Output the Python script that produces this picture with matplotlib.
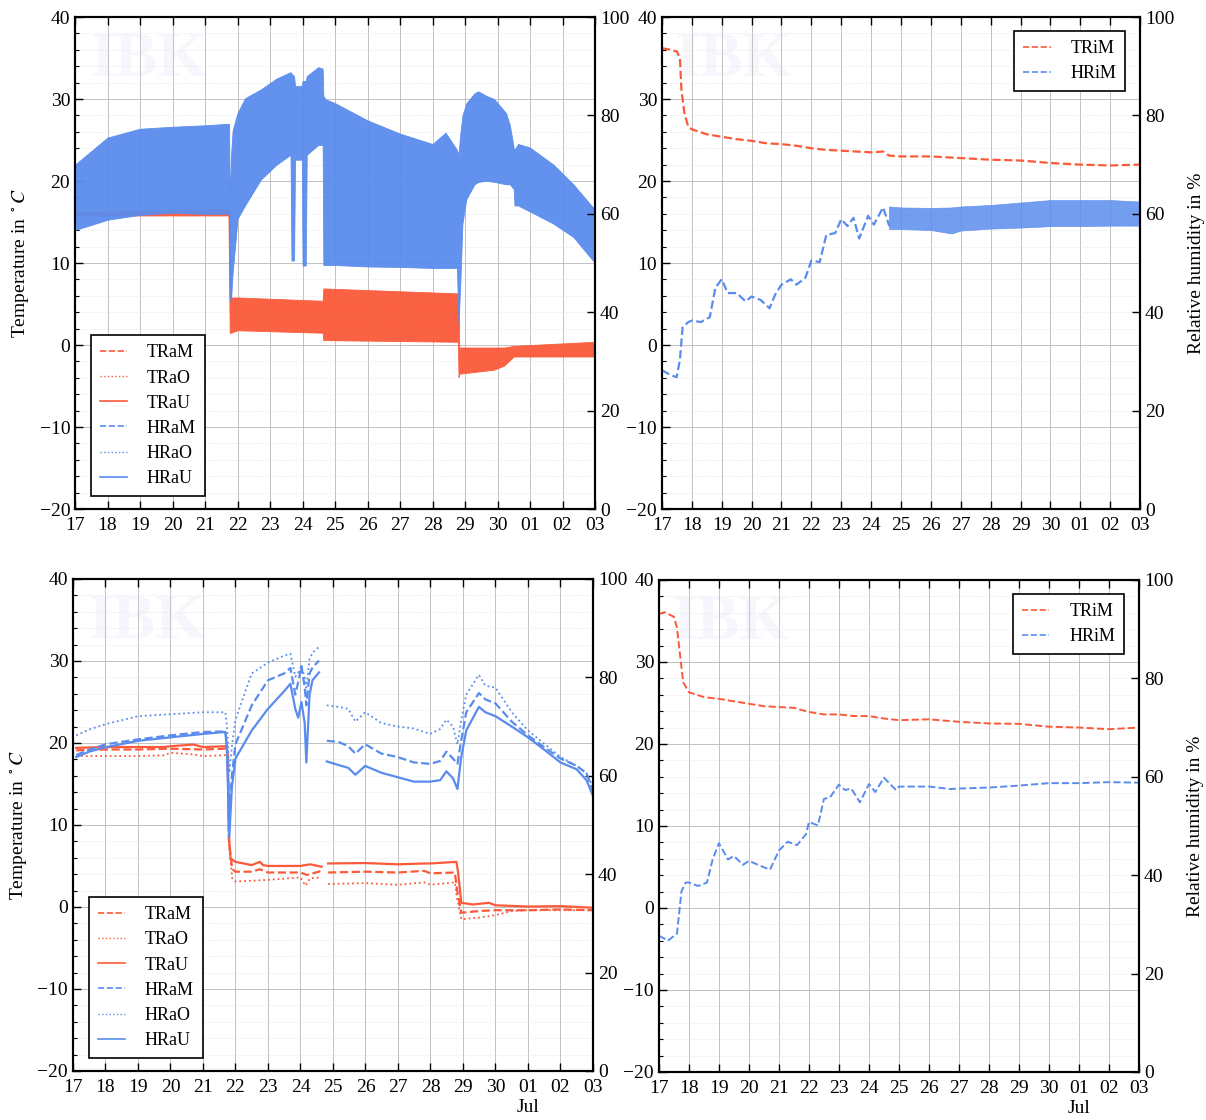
import numpy as np
import matplotlib
matplotlib.use("Agg")
import matplotlib.pyplot as plt
import matplotlib.dates as mdates
from matplotlib.lines import Line2D
from matplotlib.ticker import MultipleLocator, FuncFormatter
from datetime import datetime

plt.rcParams['font.family'] = ['Liberation Serif', 'DejaVu Serif']
plt.rcParams['mathtext.fontset'] = 'stix'
plt.rcParams['xtick.direction'] = 'in'
plt.rcParams['ytick.direction'] = 'in'

RED = '#fb5a3a'
BLUE = '#5a8ced'

# time axis: days since 17 June 00:00
t0 = mdates.date2num(datetime(2019, 6, 17))

# ---- top left: raw outdoor sensors (dense oscillation, drawn as min/max envelope)
tl_hr_t = [0.0, 1.0, 2.0, 3.0, 4.0, 4.7, 4.74, 4.76, 4.8, 4.85, 5.0, 5.23, 5.72, 6.2, 6.63,
           6.66, 6.74, 6.77, 6.98, 7.0, 7.1, 7.13, 7.48, 7.62, 7.64, 7.7, 8.0, 9.0, 10.0,
           11.0, 11.4, 11.75, 11.8, 11.85, 11.92, 12.04, 12.29, 12.41, 12.65, 12.9, 13.26,
           13.38, 13.5, 13.52, 13.63, 13.99, 14.72, 15.33, 16.0]
tl_hr_hi = [70.0, 75.5, 77.3, 77.7, 78.0, 78.3, 78.3, 62.0, 72.0, 77.0, 80.5, 83.5, 85.3, 87.5, 88.8,
            88.5, 88.0, 86.0, 86.0, 87.0, 87.0, 88.0, 89.8, 89.5, 84.0, 83.3, 82.5, 79.0, 76.3,
            74.2, 76.5, 73.0, 72.0, 76.0, 80.0, 82.5, 84.5, 84.9, 84.0, 83.3, 80.5,
            78.0, 73.3, 73.0, 74.2, 73.5, 70.0, 66.0, 60.8]
tl_hr_lo = [56.7, 58.8, 59.8, 60.2, 60.0, 60.0, 60.0, 42.5, 42.7, 48.0, 59.0, 61.7, 67.0, 70.0, 72.0,
            50.5, 50.5, 71.0, 71.0, 49.5, 49.5, 72.0, 74.0, 74.0, 49.6, 49.6, 49.6, 49.3, 49.2,
            49.0, 49.0, 49.0, 37.8, 45.0, 58.0, 63.0, 66.0, 66.5, 66.7, 66.5, 66.0,
            66.0, 65.0, 61.7, 61.7, 60.5, 58.0, 55.3, 50.0]

tl_tr_t = [0.0, 4.72, 4.76, 4.8, 5.0, 7.62, 7.64, 11.78, 11.8, 11.82, 12.9, 13.2, 13.5, 16.0]
tl_tr_hi = [16.2, 16.6, 16.0, 5.8, 5.8, 5.4, 6.9, 6.3, 6.3, -0.3, -0.3, -0.3, -0.1, 0.4]
tl_tr_lo = [15.8, 15.8, 1.5, 1.5, 1.8, 1.5, 0.6, 0.4, -3.9, -3.5, -3.0, -2.5, -1.4, -1.4]

# ---- top right: indoor sensor
tr_trim_t = [0, 0.3, 0.5, 0.6, 0.65, 0.75, 0.88, 1.0, 1.5, 2.0, 2.5, 3.0, 3.5, 4.0, 4.5, 5.0,
             5.5, 6.0, 6.5, 7.0, 7.4, 7.6, 8.0, 9, 10, 11, 12, 13, 14, 15, 16]
tr_trim = [36.2, 36.0, 35.8, 35.0, 31.2, 28.3, 26.6, 26.3, 25.7, 25.4, 25.1, 24.9, 24.6, 24.5,
           24.3, 24.0, 23.8, 23.7, 23.6, 23.5, 23.6, 23.1, 23.0, 23.0, 22.8, 22.6, 22.5, 22.2,
           22.0, 21.9, 22.0]
tr_hrim_t = [0, 0.3, 0.49, 0.6, 0.69, 0.88, 1.0, 1.3, 1.6, 1.79, 2.0, 2.2, 2.5, 2.8, 3.0, 3.3,
             3.6, 3.79, 4.0, 4.31, 4.5, 4.8, 5.0, 5.28, 5.5, 5.8, 6.0, 6.21, 6.41, 6.6, 6.9,
             7.09, 7.4, 7.61]
tr_hrim = [28.2, 27.2, 26.8, 30.3, 36.9, 38.0, 38.3, 38.0, 39.0, 45.0, 46.7, 43.9, 43.9, 42.2,
           43.2, 42.5, 40.8, 43.6, 45.6, 46.7, 45.6, 47.0, 50.5, 50.2, 55.7, 56.1, 58.9, 57.5,
           59.2, 55.0, 59.6, 57.8, 61.3, 57.5]
tr_band_t = [7.6, 8, 9, 9.7, 10, 11, 12, 13, 14, 15, 16]
tr_band_hi = [61.5, 61.3, 61.2, 61.3, 61.5, 61.8, 62.3, 62.8, 62.8, 62.8, 62.5]
tr_band_lo = [56.9, 56.9, 56.7, 56.0, 56.6, 57.0, 57.2, 57.5, 57.5, 57.6, 57.6]

# ---- bottom left: smoothed outdoor sensors
nan = np.nan
bl_tu_t = [0.1, 1.0, 2.0, 2.8, 3.0, 3.7, 4.0, 4.7, 4.76, 4.8, 4.85, 5.0, 5.5, 5.75, 5.85, 6.0,
           7.0, 7.3, 7.65, 7.72, 7.85, 9.0, 10.0, 10.8, 11.0, 11.8, 11.85, 11.95, 12.3, 12.8,
           13.0, 14.0, 15.0, 16.0]
bl_tu = [19.4, 19.5, 19.5, 19.5, 19.6, 19.8, 19.5, 19.6, 18.9, 8.5, 5.9, 5.5, 5.1, 5.5, 5.1, 5.0,
         5.0, 5.2, 4.9, nan, 5.3, 5.35, 5.2, 5.3, 5.3, 5.5, 4.2, 0.5, 0.3, 0.5, 0.2, 0.05, 0.1, -0.1]
bl_tm_t = [0.1, 1, 2, 3, 4, 4.7, 4.76, 4.8, 4.9, 5.0, 5.5, 5.75, 6.0, 7.0, 7.2, 7.65, 7.72,
           7.85, 9, 10, 10.8, 11.0, 11.75, 11.82, 11.95, 12.5, 13.0, 14.0, 15, 16]
bl_tm = [19.1, 19.2, 19.2, 19.3, 19.2, 19.3, 18.5, 8.0, 4.6, 4.3, 4.3, 4.6, 4.2, 4.2, 3.9, 4.4,
         nan, 4.2, 4.3, 4.2, 4.4, 4.1, 4.2, 2.0, -0.7, -0.5, -0.4, -0.4, -0.3, -0.4]
bl_to_t = [0.1, 1, 2, 2.8, 3, 3.7, 4, 4.7, 4.76, 4.8, 4.9, 5.0, 5.5, 6.0, 7.0, 7.15, 7.3, 7.65,
           7.72, 7.85, 9, 10, 10.8, 11, 11.75, 11.82, 11.95, 12.5, 13.0, 13.5, 14, 15, 16]
bl_to = [18.4, 18.4, 18.4, 18.5, 18.8, 18.6, 18.4, 18.5, 18.0, 7.5, 3.5, 3.1, 3.2, 3.3, 3.6,
         2.6, 3.5, 3.6, nan, 2.8, 2.9, 2.7, 3.0, 2.7, 3.0, 1.0, -1.5, -1.3, -1.0, -0.5, -0.4,
         -0.4, -0.4]

bl_h_t = [0.1, 0.5, 1.01, 2.01, 3.0, 4.0, 4.69, 4.74, 4.81, 4.89, 5.0, 5.5, 6.0, 6.5, 6.69,
          6.84, 6.93, 7.03, 7.13, 7.18, 7.28, 7.37, 7.57, 7.7, 7.81, 8.16, 8.47, 8.69, 8.99,
          9.49, 9.99, 10.49, 10.99, 11.3, 11.49, 11.69, 11.83, 11.94, 12.1, 12.49, 12.69,
          13.0, 13.5, 14.0, 14.5, 15.0, 15.5, 15.8, 16.0]
bl_hu = [63.8, 64.9, 65.8, 67.1, 67.8, 68.5, 68.9, 64.9, 47.5, 57.7, 63.5, 69.2, 73.6, 77.2,
         78.7, 73.6, 71.8, 75.0, 70.7, 62.7, 76.5, 79.4, 81.0, nan, 62.9, 62.2, 61.6, 60.2,
         62.0, 60.6, 59.7, 58.8, 58.8, 59.1, 60.9, 59.5, 57.3, 63.5, 69.2, 74.0, 72.9, 72.1,
         70.0, 67.8, 65.3, 62.7, 61.3, 59.1, 55.9]
bl_hm = [64.2, 65.3, 66.4, 67.4, 68.2, 68.9, 69.0, 66.0, 53.3, 60.0, 66.4, 74.3, 79.4, 80.8,
         81.9, 76.5, 79.0, 82.3, 78.0, 74.3, 80.8, 82.0, 83.4, nan, 67.1, 66.9, 66.0, 64.5,
         66.4, 64.5, 63.8, 62.7, 62.4, 63.0, 64.9, 63.5, 62.4, 67.0, 72.9, 76.8, 75.5, 74.7,
         71.0, 68.2, 65.8, 63.5, 62.0, 60.5, 56.9]
bl_ho = [68.2, 69.4, 70.5, 72.1, 72.5, 72.9, 72.9, 70.0, 60.6, 66.0, 71.4, 80.8, 83.0, 84.4,
         84.8, 80.1, 81.0, 82.3, 80.0, 77.9, 83.7, 85.0, 86.2, nan, 74.3, 74.0, 73.6, 71.0,
         72.9, 70.7, 70.0, 69.6, 68.5, 69.5, 71.4, 70.0, 66.4, 71.0, 76.5, 80.5, 78.3, 77.9,
         72.9, 69.2, 66.5, 63.8, 62.0, 60.5, 57.7]

# ---- bottom right: smoothed indoor sensor
br_trim_t = [0.0, 0.19, 0.5, 0.6, 0.71, 0.81, 1.0, 1.51, 2, 2.5, 3, 3.5, 4, 4.5, 5, 5.5, 6,
             6.5, 7, 7.5, 8, 9, 10, 11, 12, 13, 14, 15, 16]
br_trim = [35.85, 36.06, 35.5, 34.2, 30.6, 27.5, 26.3, 25.7, 25.5, 25.2, 24.9, 24.6, 24.5,
           24.4, 23.9, 23.6, 23.6, 23.4, 23.4, 23.1, 22.9, 23.0, 22.7, 22.5, 22.45, 22.1, 22.0,
           21.8, 22.0]
br_hrim_t = [0, 0.3, 0.6, 0.75, 0.89, 1.0, 1.3, 1.6, 1.79, 2.0, 2.3, 2.5, 2.8, 3.0, 3.3, 3.7,
             4.0, 4.29, 4.6, 4.9, 5.0, 5.3, 5.5, 5.7, 6.0, 6.2, 6.41, 6.7, 7.0, 7.21, 7.5,
             7.9, 8.0, 9.0, 9.71, 10, 11, 12, 13, 14, 15, 16]
br_hrim = [27.7, 26.7, 28.1, 36.7, 38.5, 38.5, 37.8, 38.5, 43.2, 46.5, 43.2, 43.9, 42.1, 42.9,
           42.1, 41.1, 45.0, 46.8, 46.1, 48.3, 50.8, 50.1, 55.5, 55.8, 58.4, 57.3, 57.6, 54.8,
           58.5, 56.9, 59.8, 57.3, 58.0, 58.0, 57.5, 57.6, 57.8, 58.2, 58.7, 58.7, 58.9, 58.8]


def tx(t):
    return t0 + np.asarray(t, dtype=float)


def day_label(show_month):
    def f(x, pos):
        d = mdates.num2date(x)
        if show_month and d.day == 1:
            return d.strftime('%d') + '\n' + d.strftime('%b')
        return d.strftime('%d')
    return f


def setup(ax, left_label, right_label, show_month):
    ax.set_xlim(t0, t0 + 16)
    ax.set_ylim(-20, 40)
    ax.yaxis.set_major_locator(MultipleLocator(10))
    ax.yaxis.set_minor_locator(MultipleLocator(2))
    ax.xaxis.set_major_locator(mdates.DayLocator())
    ax.xaxis.set_major_formatter(FuncFormatter(day_label(show_month)))
    ax.tick_params(axis='both', which='major', labelsize=14, length=6, width=1, top=True)
    ax.tick_params(axis='y', which='minor', length=3, width=0.8)
    ax.tick_params(axis='x', pad=6)
    ax.grid(True, which='major', color='#b8b8b8', lw=0.6, ls='-')
    ax.grid(True, which='minor', axis='y', color='#dcdcdc', lw=0.5, ls=':')
    ax.set_axisbelow(True)
    for s in ax.spines.values():
        s.set_linewidth(1.5)
    # faint watermark
    ax.text(0.03, 0.97, 'IBK', transform=ax.transAxes, fontsize=46, fontweight='bold',
            color='#f6f7fc', va='top', ha='left', zorder=0)
    if left_label:
        ax.set_ylabel(r'Temperature in $^\circ C$', fontsize=14, labelpad=6)
    ax2 = ax.twinx()
    ax2.set_ylim(0, 100)
    ax2.yaxis.set_major_locator(MultipleLocator(20))
    ax2.tick_params(axis='y', labelsize=14, length=6, width=1, direction='in')
    for s in ax2.spines.values():
        s.set_linewidth(1.5)
    if right_label:
        ax2.set_ylabel('Relative humidity in %', fontsize=14, labelpad=10)
    return ax2


fig = plt.figure(figsize=(12.06, 11.2), dpi=100)

leg_kw = dict(fontsize=13, frameon=True, fancybox=False, framealpha=1, edgecolor='black',
              handlelength=1.5, handletextpad=1.1, labelspacing=0.45, borderpad=0.5)

out_handles = [Line2D([], [], color=RED, ls='--', lw=1.2, label='TRaM'),
               Line2D([], [], color=RED, ls=':', lw=1.0, label='TRaO'),
               Line2D([], [], color=RED, ls='-', lw=1.2, label='TRaU'),
               Line2D([], [], color=BLUE, ls='--', lw=1.2, label='HRaM'),
               Line2D([], [], color=BLUE, ls=':', lw=1.0, label='HRaO'),
               Line2D([], [], color=BLUE, ls='-', lw=1.2, label='HRaU')]
in_handles = [Line2D([], [], color=RED, ls='--', lw=1.2, label='TRiM'),
              Line2D([], [], color=BLUE, ls='--', lw=1.2, label='HRiM')]

# top left
ax = fig.add_axes([0.0622, 0.5455, 0.4312, 0.4393])
ax2 = setup(ax, True, False, False)
ax.fill_between(tx(tl_tr_t), tl_tr_lo, tl_tr_hi, color=RED, lw=0.6, alpha=0.95)
ax2.fill_between(tx(tl_hr_t), tl_hr_lo, tl_hr_hi, color=BLUE, lw=0.6, alpha=0.95)
leg = ax2.legend(handles=out_handles, loc='lower left', bbox_to_anchor=(0.013, 0.008), **leg_kw)
leg.get_frame().set_linewidth(1.2)

# top right
ax = fig.add_axes([0.5489, 0.5455, 0.3964, 0.4393])
ax2 = setup(ax, False, True, False)
ax.plot(tx(tr_trim_t), tr_trim, color=RED, ls='--', lw=1.6)
ax2.plot(tx(tr_hrim_t), tr_hrim, color=BLUE, ls='--', lw=1.6)
ax2.fill_between(tx(tr_band_t), tr_band_lo, tr_band_hi, color=BLUE, lw=0.5, alpha=0.85)
leg = ax2.legend(handles=in_handles, loc='upper right', bbox_to_anchor=(0.988, 0.99), **leg_kw)
leg.get_frame().set_linewidth(1.2)

# bottom left
ax = fig.add_axes([0.0605, 0.0438, 0.4312, 0.4393])
ax2 = setup(ax, True, False, True)
ax.plot(tx(bl_tm_t), bl_tm, color=RED, ls='--', lw=1.6)
ax.plot(tx(bl_to_t), bl_to, color=RED, ls=':', lw=1.3)
ax.plot(tx(bl_tu_t), bl_tu, color=RED, ls='-', lw=1.6)
ax2.plot(tx(bl_h_t), bl_hm, color=BLUE, ls='--', lw=1.6)
ax2.plot(tx(bl_h_t), bl_ho, color=BLUE, ls=':', lw=1.3)
ax2.plot(tx(bl_h_t), bl_hu, color=BLUE, ls='-', lw=1.6)
leg = ax2.legend(handles=out_handles, loc='lower left', bbox_to_anchor=(0.013, 0.008), **leg_kw)
leg.get_frame().set_linewidth(1.2)

# bottom right
ax = fig.add_axes([0.5464, 0.0429, 0.3980, 0.4393])
ax2 = setup(ax, False, True, True)
ax.plot(tx(br_trim_t), br_trim, color=RED, ls='--', lw=1.4)
ax2.plot(tx(br_hrim_t), br_hrim, color=BLUE, ls='--', lw=1.4)
leg = ax2.legend(handles=in_handles, loc='upper right', bbox_to_anchor=(0.988, 0.99), **leg_kw)
leg.get_frame().set_linewidth(1.2)

fig.savefig('out.png', dpi=100, facecolor='white')
